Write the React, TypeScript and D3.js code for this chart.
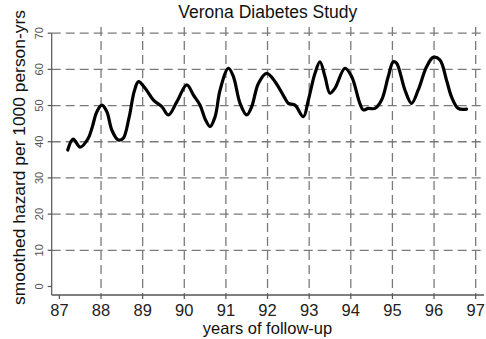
import React from "react";
import * as d3 from "d3";

// smoothed hazard curve (year, rate per 1000 person-yrs)
const years = [
  87.2, 87.33, 87.5, 87.69, 87.79, 87.9, 88.02, 88.14, 88.26, 88.41, 88.53, 88.67,
  88.8, 88.9, 89.06, 89.26, 89.46, 89.62, 89.82, 90.06, 90.22, 90.38, 90.5, 90.62,
  90.74, 90.86, 91.06, 91.18, 91.34, 91.5, 91.62, 91.78, 91.98, 92.18, 92.42, 92.5,
  92.66, 92.86, 92.98, 93.14, 93.26, 93.38, 93.5, 93.62, 93.86, 94.02, 94.22, 94.3,
  94.42, 94.58, 94.74, 94.9, 95.02, 95.1, 95.3, 95.46, 95.62, 95.82, 95.98, 96.14,
  96.3, 96.42, 96.58, 96.78,
];
const hazard = [
  37.7, 40.7, 38.5, 40.9, 44.1, 48.3, 50.1, 48.3, 43.2, 40.5, 40.9, 46.5,
  54.0, 56.6, 54.8, 51.5, 49.7, 47.4, 51.0, 55.7, 52.9, 50.1, 46.3, 44.2,
  46.9, 54.3, 60.3, 58.0, 50.6, 47.4, 49.7, 56.1, 58.9, 56.6, 52.0, 50.6,
  50.1, 46.9, 51.5, 58.9, 62.1, 58.0, 53.4, 54.8, 60.3, 58.0, 50.5, 48.8,
  49.2, 49.2, 51.5, 58.0, 62.1, 61.7, 54.3, 50.6, 54.3, 60.7, 63.3, 62.6,
  57.0, 52.4, 49.2, 49.0,
];

const xTicks = [87, 88, 89, 90, 91, 92, 93, 94, 95, 96, 97];
const yTicks = [0, 10, 20, 30, 40, 50, 60, 70];

const title = "Verona Diabetes Study";
const xTitle = "years of follow-up";
const yTitle = "smoothed hazard per 1000 person-yrs";

const width = 486;
const height = 339;
const plot = { left: 51.7, right: 484, top: 27, bottom: 295 };
const font = "'Liberation Sans', Arial, sans-serif";

export default function App() {
  const x = d3.scaleLinear().domain([86.815, 97.2]).range([plot.left, plot.right]);
  const y = d3.scaleLinear().domain([-2.35, 71.7]).range([plot.bottom, plot.top]);

  const points = years.map((yr, i) => [yr, hazard[i]] as [number, number]);
  const line = d3
    .line<[number, number]>()
    .x((d) => x(d[0]))
    .y((d) => y(d[1]))
    .curve(d3.curveCatmullRom.alpha(0.5));

  const gridColor = "#7a7a7a";
  const axisColor = "#555";

  return (
    <svg
      width={width}
      height={height}
      style={{ position: "absolute", left: 0, top: 0, background: "#fff" }}
      fontFamily={font}
    >
      <rect x={0} y={0} width={width} height={height} fill="#fff" />

      {/* horizontal grid */}
      {yTicks
        .filter((t) => t > 0)
        .map((t) => (
          <line
            key={"hg" + t}
            x1={plot.left}
            x2={plot.right}
            y1={y(t)}
            y2={y(t)}
            stroke={gridColor}
            strokeWidth={1.3}
            strokeDasharray="9,5"
          />
        ))}

      {/* vertical grid */}
      {xTicks
        .filter((t) => t > 87)
        .map((t) => (
          <line
            key={"vg" + t}
            x1={x(t)}
            x2={x(t)}
            y1={plot.top}
            y2={plot.bottom}
            stroke={gridColor}
            strokeWidth={1.3}
            strokeDasharray="9,5"
          />
        ))}

      {/* axes */}
      <line x1={plot.left} x2={plot.left} y1={y(70)} y2={plot.bottom} stroke={axisColor} strokeWidth={1.2} />
      <line x1={plot.left} x2={plot.right} y1={plot.bottom} y2={plot.bottom} stroke={axisColor} strokeWidth={1.5} />

      {yTicks.map((t) => (
        <g key={"yt" + t}>
          <line x1={plot.left - 4} x2={plot.left} y1={y(t)} y2={y(t)} stroke={axisColor} strokeWidth={1.2} />
          <text
            transform={`translate(42.5,${y(t)}) rotate(-90)`}
            textAnchor="middle"
            fontSize={11}
            fill="#555"
          >
            {t}
          </text>
        </g>
      ))}

      {xTicks.map((t) => (
        <g key={"xt" + t}>
          <line x1={x(t)} x2={x(t)} y1={plot.bottom} y2={plot.bottom + 4} stroke={axisColor} strokeWidth={1.2} />
          <text x={x(t)} y={316} textAnchor="middle" fontSize={16.5} fill="#222">
            {t}
          </text>
        </g>
      ))}

      {/* hazard curve */}
      <path d={line(points) || ""} fill="none" stroke="#000" strokeWidth={3.2} strokeLinejoin="round" strokeLinecap="round" />

      {/* titles */}
      <text x={(plot.left + plot.right) / 2} y={18} textAnchor="middle" fontSize={17.5} fill="#111">
        {title}
      </text>
      <text x={267.5} y={334} textAnchor="middle" fontSize={16.5} fill="#111">
        {xTitle}
      </text>
      <text
        transform={`translate(25,157.5) rotate(-90)`}
        textAnchor="middle"
        fontSize={17.4}
        fill="#111"
      >
        {yTitle}
      </text>
    </svg>
  );
}
